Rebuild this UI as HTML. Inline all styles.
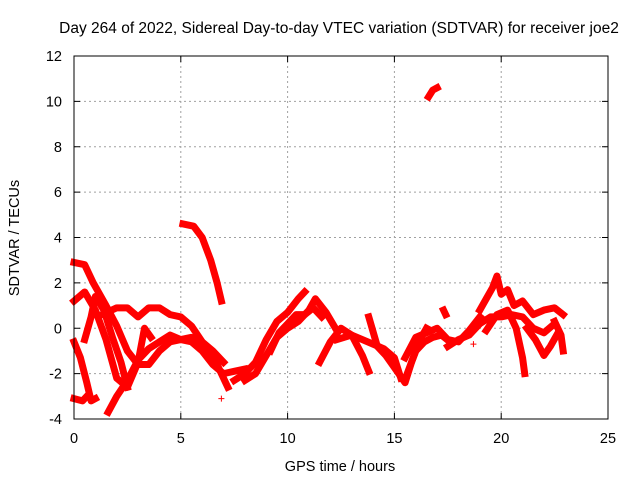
<!DOCTYPE html>
<html><head><meta charset="utf-8"><style>
body{margin:0;background:#fff}
svg{display:block;font-family:"Liberation Sans",sans-serif}
</style></head><body>
<svg id="chart" width="640" height="480">
<text x="339" y="33" font-size="15.5" text-anchor="middle">Day 264 of 2022, Sidereal Day-to-day VTEC variation (SDTVAR) for receiver joe2</text>
<text x="340" y="471" font-size="14.5" text-anchor="middle">GPS time / hours</text>
<text transform="translate(19,238) rotate(-90)" font-size="14.5" text-anchor="middle">SDTVAR / TECUs</text>
<g id="grid"></g><g id="marks"></g>
<rect x="74" y="56" width="534" height="363" fill="none" stroke="#000"/>
</svg>
<script>
const xTicks=[0,5,10,15,20,25];
const yTicks=[-4,-2,0,2,4,6,8,10,12];
const track1=[[0,2.9],[0.5,2.8],[0.9,2.0],[1.5,1.0],[2,0.1],[2.5,-1.0],[3,-1.6],[3.5,-1.6],[4,-1.0],[4.5,-0.6],[5,-0.5],[5.5,-0.6],[6,-1.0],[6.5,-1.6],[7,-2.0],[7.5,-1.9],[8,-1.8]];
const track2=[[5.1,4.6],[5.6,4.5],[6,4.0],[6.4,3.0],[6.7,2.0],[6.9,1.2]];
const track3=[[0,1.2],[0.5,1.6],[1,0.8],[1.5,-0.5],[2,-2.2],[2.5,-2.6],[3,-1.5],[3.3,0],[3.6,-0.4]];
const track4=[[1.3,0.6],[2,0.9],[2.5,0.9],[3,0.5],[3.5,0.9],[4,0.9],[4.5,0.6],[5,0.5],[5.5,0.1],[6,-0.6],[6.5,-1.0],[7,-1.5]];
const track5=[[0,-0.6],[0.3,-1.3],[0.6,-2.4],[0.8,-3.2],[1,-3.1]];
const track6=[[0,-3.1],[0.4,-3.2],[0.6,-3.0]];
const track7=[[1.6,-3.7],[2,-3.0],[2.5,-2.3],[3,-1.4],[3.5,-0.9],[4,-0.6],[4.5,-0.3],[5,-0.5],[5.5,-0.4],[6,-0.6],[6.5,-1.2],[7,-2.2],[7.2,-2.6]];
const track8=[[0.5,-0.5],[0.8,0.5],[1,1.4],[1.4,0.8],[1.8,-0.4],[2.2,-1.5],[2.5,-2.6]];
const track9=[[7.5,-2.3],[8,-2.0],[8.5,-1.5],[9,-0.5],[9.5,0.3],[10,0.7],[10.5,1.3],[10.8,1.6]];
const track10=[[8,-2.3],[8.5,-2.0],[9,-1.2],[9.5,-0.4],[10,0],[10.5,0.3],[11,0.8],[11.3,1.3],[11.8,0.7],[12.3,-0.1]];
const track11=[[11.5,-1.5],[12,-0.6],[12.5,0],[13,-0.3],[13.5,-1.2],[13.8,-1.9]];
const track12=[[12.3,-0.5],[13,-0.3],[14,-0.7],[14.5,-0.9],[15,-1.3],[15.3,-2.2]];
const track13=[[13.8,0.5],[14.2,-0.8],[14.6,-1.2],[15.2,-2.0],[15.5,-2.4],[15.8,-1.5],[16.2,-0.5],[16.5,0]];
const track14=[[15.5,-1.3],[16,-0.4],[16.5,-0.2],[17,0.0],[17.5,-0.5],[18,-0.6],[18.5,-0.1],[19,0.5]];
const track15=[[16.6,10.2],[16.8,10.5],[17,10.6]];
const track16=[[17.3,0.8],[17.4,0.6]];
const track17=[[19,0.8],[19.3,1.3],[19.6,1.8],[19.8,2.3],[20,1.5],[20.3,1.7],[20.6,1.0],[21,1.2],[21.5,0.6],[22,0.8],[22.5,0.9],[22.9,0.6]];
const track18=[[19.3,-0.1],[19.8,0.6],[20.3,0.8],[20.7,0.0],[21,-1.3],[21.1,-2.0]];
const track19=[[21.2,0],[21.6,-0.5],[22,-1.2],[22.3,-0.8],[22.6,-0.3]];
const track20=[[22.5,0.3],[22.8,-0.3],[22.9,-1.0]];
const track21=[[17.5,-0.8],[18,-0.5],[18.5,-0.3],[19,0.2],[19.5,0.5],[20,0.5],[20.5,0.6],[21,0.5],[21.5,0],[22,-0.2],[22.5,0.2]];
const track22=[[9.2,-1.0],[9.6,-0.2],[10,0.2],[10.4,0.6],[10.8,0.6],[11.2,0.9],[11.6,0.5]];
const track23=[[15.6,-2.0],[16,-1.0],[16.4,-0.6],[16.8,-0.4],[17.2,-0.3],[17.6,-0.6]];
const strayPoints=[[6.9,-3.1],[18.7,-0.7]];
const tracks=[track1,track2,track3,track4,track5,track6,track7,track8,track9,track10,track11,track12,track13,track14,track15,track16,track17,track18,track19,track20,track21,track22,track23];

const X=v=>74+v*534/25, Y=v=>419-(v+4)*363/16;
const NS="http://www.w3.org/2000/svg";
const grid=document.getElementById('grid'), marks=document.getElementById('marks');
function mk(tag,attrs,parent){const e=document.createElementNS(NS,tag);for(const k in attrs)e.setAttribute(k,attrs[k]);parent.appendChild(e);return e;}
xTicks.forEach(t=>{
 if(t>0&&t<25){const g=mk('line',{x1:X(t),x2:X(t),y1:56,y2:419,stroke:'#a0a0a0','stroke-dasharray':'2,3'},grid);
 
 }
 mk('line',{x1:X(t),x2:X(t),y1:419,y2:413,stroke:'#000'},grid);
 mk('line',{x1:X(t),x2:X(t),y1:56,y2:62,stroke:'#000'},grid);
 const l=mk('text',{x:X(t),y:443,'font-size':14.5,'text-anchor':'middle'},grid);l.textContent=t;
 
 
});
yTicks.forEach(t=>{
 if(t>-4&&t<12){const g=mk('line',{x1:74,x2:608,y1:Y(t),y2:Y(t),stroke:'#a0a0a0','stroke-dasharray':'2,3'},grid);
 
 }
 mk('line',{x1:74,x2:80,y1:Y(t),y2:Y(t),stroke:'#000'},grid);
 mk('line',{x1:608,x2:602,y1:Y(t),y2:Y(t),stroke:'#000'},grid);
 const l=mk('text',{x:62,y:Y(t)+5,'font-size':14.5,'text-anchor':'end'},grid);l.textContent=t;
 
 
});
tracks.forEach(tr=>{
 const p=mk('polyline',{points:tr.map(d=>X(d[0])+','+Y(d[1])).join(' '),fill:'none',stroke:'#f00','stroke-width':7,'stroke-linejoin':'round','stroke-linecap':'square'},marks);
 
 
});
strayPoints.forEach(d=>{
 const p=mk('path',{d:`M${X(d[0])-3},${Y(d[1])}h6M${X(d[0])},${Y(d[1])-3}v6`,stroke:'#f00'},marks);
 
 
});
</script>
</body></html>
